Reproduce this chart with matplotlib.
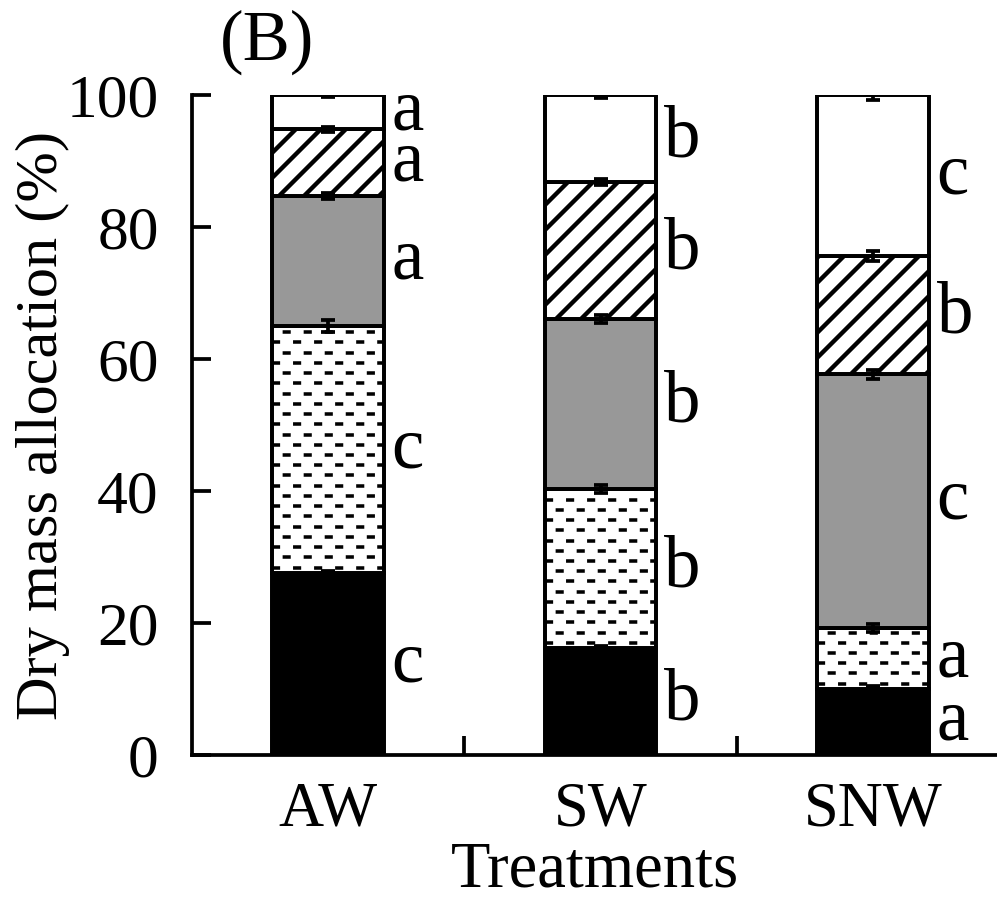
import numpy as np
import matplotlib.pyplot as plt

plt.rcParams['font.family'] = ['Liberation Serif', 'DejaVu Serif']
plt.rcParams['hatch.linewidth'] = 2.1
plt.rcParams['lines.scale_dashes'] = False

# data (percent of dry mass, stacked bottom -> top)
treatments = ['AW', 'SW', 'SNW']
black_part = [27.6, 16.2, 10.0]
dashed_part = [37.4, 24.1, 9.2]
gray_part = [19.7, 25.8, 38.5]
hatch_part = [10.1, 20.7, 17.9]
white_part = [5.2, 13.2, 24.4]
err_black = [0.3, 0.3, 0.4]
err_dashed = [0.9, 0.6, 0.6]
err_gray = [0.5, 0.6, 0.7]
err_hatch = [0.4, 0.4, 0.8]
err_white = [0.3, 0.5, 0.8]
letters = [['c', 'c', 'a', 'a', 'a'],
           ['b', 'b', 'b', 'b', 'b'],
           ['a', 'a', 'c', 'b', 'c']]

parts = [black_part, dashed_part, gray_part, hatch_part, white_part]
errs = [err_black, err_dashed, err_gray, err_hatch, err_white]
styles = [dict(color='black'),
          dict(color='white'),
          dict(color='#989898'),
          dict(color='white', hatch='//'),
          dict(color='white')]

fig = plt.figure(figsize=(997 / 150, 897 / 150), dpi=150)
ax = fig.add_axes([192 / 997, 142 / 897, 805 / 997, 660 / 897])

x = np.arange(len(treatments))
w = 0.41
bottom = np.zeros(len(treatments))
for k, (vals, st) in enumerate(zip(parts, styles)):
    vals = np.array(vals)
    bars = ax.bar(x, vals, w, bottom=bottom, edgecolor='black', linewidth=1.9,
                  zorder=2, **st)
    if k == 1:
        # dashed horizontal fill
        for i, b in enumerate(bars):
            ys = np.arange(bottom[i] + 0.8, bottom[i] + vals[i], 1.55)
            for j, yy in enumerate(ys):
                off = 0 if j % 2 == 0 else 5
                ln, = ax.plot([x[i] - w / 2, x[i] + w / 2], [yy, yy], color='black',
                              lw=1.7, linestyle=(off, (3.9, 6.2)), zorder=2.5)
                ln.set_clip_path(b)
    top = bottom + vals
    ax.errorbar(x, top, yerr=errs[k], fmt='none', ecolor='black', elinewidth=1.8,
                capsize=3.5, capthick=1.8, zorder=3)
    for i in range(len(treatments)):
        ax.text(x[i] + w / 2 + 0.028, bottom[i] + vals[i] / 2, letters[i][k],
                fontsize=35, ha='left', va='center', zorder=4)
    bottom = top

ax.set_xlim(-0.5, 2.455)
ax.set_ylim(0, 100)
ax.spines['top'].set_visible(False)
ax.spines['right'].set_visible(False)
for s in ['left', 'bottom']:
    ax.spines[s].set_linewidth(1.8)
    ax.spines[s].set_zorder(5)

ax.set_yticks([0, 20, 40, 60, 80, 100])
ax.tick_params(axis='y', direction='in', length=9, width=1.8, labelsize=29.5, pad=16)
ax.set_xticks(x)
ax.set_xticklabels(treatments)
ax.tick_params(axis='x', which='major', length=0, labelsize=30, pad=12.5)
ax.set_xticks([0.5, 1.5], minor=True)
ax.tick_params(axis='x', which='minor', direction='in', length=9, width=1.8)

ax.set_ylabel('Dry mass allocation (%)', fontsize=29)
ax.yaxis.set_label_coords(-0.152, 0.5)
ax.set_xlabel('Treatments', fontsize=31, labelpad=1)
fig.text(220 / 997, 1 - 42 / 897, '(B)', fontsize=34, ha='left', va='center')

fig.savefig('out.png', dpi=150)
